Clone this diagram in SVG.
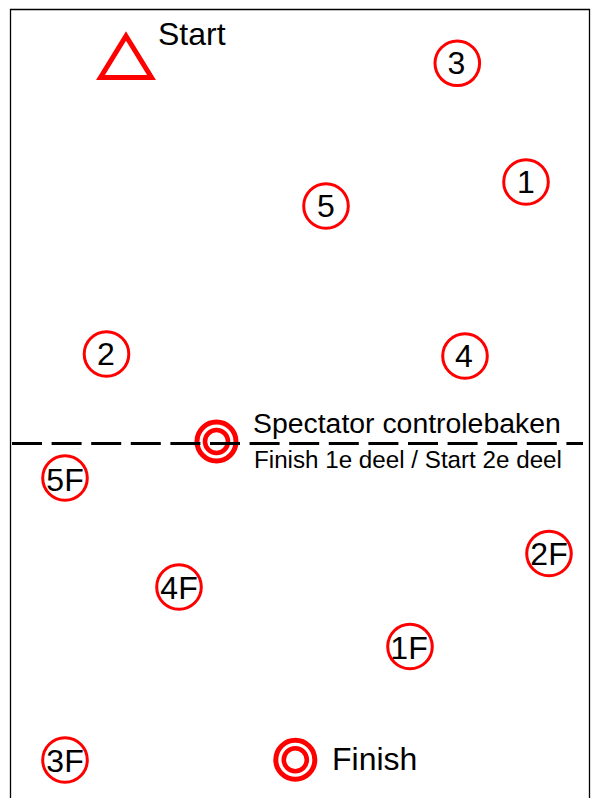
<svg xmlns="http://www.w3.org/2000/svg" width="593" height="798" viewBox="0 0 593 798">
<style>
text{font-family:"Liberation Sans",Arial,sans-serif;fill:#000}
.n{font-size:32px;text-anchor:middle}
.c{fill:none;stroke:#f00;stroke-width:3}
.o{fill:none;stroke:#f00;stroke-width:5}
.i{fill:none;stroke:#f00;stroke-width:4.600}
</style>
<rect width="593" height="798" fill="#fff"/>
<path id="frame" d="M10.500 798V9.500H589.500V798" fill="none" stroke="#000" stroke-width="1.300"/>
<g id="start"><path d="M126 36L151.500 77.500H100.500Z" fill="none" stroke="#f00" stroke-width="5"/><text x="158" y="45" font-size="32">Start</text></g>
<g id="n3"><circle class="c" cx="457.300" cy="63.300" r="22.300"/><text class="n" x="456.500" y="73.500">3</text></g>
<g id="n1"><circle class="c" cx="526" cy="182" r="22.300"/><text class="n" x="526" y="192.500">1</text></g>
<g id="n5"><circle class="c" cx="326" cy="206" r="22.300"/><text class="n" x="326" y="216.500">5</text></g>
<g id="n2"><circle class="c" cx="106.500" cy="354" r="22.300"/><text class="n" x="106" y="364.500">2</text></g>
<g id="n4"><circle class="c" cx="465" cy="356" r="22.300"/><text class="n" x="464" y="366.500">4</text></g>
<g id="spectator"><circle class="o" cx="216.500" cy="441.500" r="19.500"/><circle class="i" cx="216.500" cy="441.500" r="11.500"/><text x="253" y="433" font-size="28.400">Spectator controlebaken</text><text x="254" y="468" font-size="24.200">Finish 1e deel / Start 2e deel</text></g>
<g id="n5F"><circle class="c" cx="65" cy="478" r="22.300"/><text class="n" x="65" y="490.500">5F</text></g>
<g id="n2F"><circle class="c" cx="549" cy="553.500" r="22.300"/><text class="n" x="549" y="565">2F</text></g>
<g id="n4F"><circle class="c" cx="179" cy="587" r="22.300"/><text class="n" x="179" y="599">4F</text></g>
<g id="n1F"><circle class="c" cx="410" cy="646.500" r="22.300"/><text class="n" x="409" y="659">1F</text></g>
<g id="n3F"><circle class="c" cx="65" cy="760" r="22.300"/><text class="n" x="65" y="771.500">3F</text></g>
<g id="finish"><circle class="o" cx="295.300" cy="759.800" r="19.500"/><circle class="i" cx="295.300" cy="759.800" r="11.500"/><text x="332" y="770" font-size="32">Finish</text></g>
<g id="connectors"><line x1="12" y1="443.500" x2="583" y2="443.500" stroke="#000" stroke-width="3" stroke-dasharray="30 9.600"/></g>
</svg>
